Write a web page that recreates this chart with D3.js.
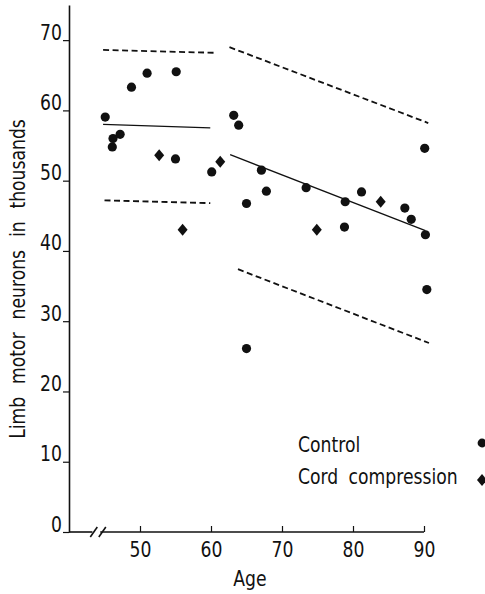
<!DOCTYPE html>
<html lang="en">

<head>
  <meta charset="UTF-8">
  <title>Limb motor neurons</title>
  <style>
    body {
      margin: 0;
      background: #fff;
    }

    svg text {
      font-family: "DejaVu Sans", sans-serif;
      font-size: 21px;
      fill: #111;
    }

    .fit {
      fill: none;
      stroke: #111;
    }
  </style>
</head>

<body>
  <div id="chart"></div>
</body>
<script src="https://d3js.org/d3.v7.min.js"></script>

<script>
  // control group
  const controlAge = [45.1, 46.2, 46.1, 47.2, 48.8, 51.0, 55.0, 55.1, 60.1, 63.2, 63.9, 65.0,
    65.0, 67.1, 67.8, 73.4, 78.9, 78.8, 81.2, 87.3, 88.2, 90.1, 90.2, 90.4]
  const controlNeurons = [59.05, 56.0, 54.8, 56.6, 63.3, 65.3, 53.1, 65.5, 51.25, 59.3, 57.9, 46.75,
    26.1, 51.5, 48.5, 49.0, 47.0, 43.4, 48.4, 46.1, 44.5, 54.6, 42.3, 34.5]

  // cord compression group
  const compAge = [52.7, 56.0, 61.3, 74.9, 83.9]
  const compNeurons = [53.6, 43.0, 52.7, 43.0, 47.0]

  // regression lines and limits, [age, neurons] at both ends
  const youngMean = [[44.8, 58.0], [59.9, 57.5]]
  const youngUpper = [[44.8, 68.6], [60.5, 68.2]]
  const youngLower = [[45.0, 47.2], [59.9, 46.8]]
  const oldMean = [[62.7, 53.7], [90.2, 42.9]]
  const oldUpper = [[62.6, 69.0], [90.6, 58.2]]
  const oldLower = [[63.8, 37.4], [90.7, 26.9]]

  const xTicks = [50, 60, 70, 80, 90]
  const yTicks = [0, 10, 20, 30, 40, 50, 60, 70]
  const legendLabels = ['Control', 'Cord compression']

  const W = 485, H = 594
  // no condensed face installed, so squeeze the glyphs a bit
  const sq = 0.82

  const xScale = d3.scaleLinear().domain([40, 90]).range([69, 424])
  const yScale = d3.scaleLinear().domain([0, 75]).range([532, 5])

  const svg = d3.select('#chart').append('svg')
    .attr('width', W)
    .attr('height', H)

  // y axis
  const yAxis = d3.axisLeft(yScale)
    .tickValues(yTicks)
    .tickSizeInner(6)
    .tickSizeOuter(0)
    .tickFormat(d3.format('d'))
  const gy = svg.append('g')
    .attr('transform', `translate(${xScale(40)},0)`)
    .call(yAxis)
  gy.attr('font-family', null).attr('font-size', null)
  gy.select('.domain').attr('stroke', '#111').attr('stroke-width', 1.6)
  gy.selectAll('.tick line').attr('stroke', '#111').attr('stroke-width', 1.2)
  gy.selectAll('.tick text')
    .attr('x', -7 / sq)
    .attr('dy', '-1')
    .attr('transform', `scale(${sq},1)`)
    .attr('fill', '#111')

  // x axis, the line itself is drawn by hand so it can carry the break
  const xAxis = d3.axisBottom(xScale)
    .tickValues(xTicks)
    .tickSizeInner(-6)
    .tickSizeOuter(0)
    .tickPadding(10)
    .tickFormat(d3.format('d'))
  const gx = svg.append('g')
    .attr('transform', `translate(0,${yScale(0)})`)
    .call(xAxis)
  gx.attr('font-family', null).attr('font-size', null)
  gx.select('.domain').remove()
  gx.selectAll('.tick line').attr('stroke', '#111').attr('stroke-width', 1.2)
  gx.selectAll('.tick text')
    .attr('dy', '0.71em')
    .attr('transform', `scale(${sq},1)`)
    .attr('fill', '#111')

  const y0 = yScale(0)
  const axisLine = d3.line()
  svg.append('path')
    .attr('d', axisLine([[xScale(40), y0], [xScale(43.3), y0]]))
    .attr('stroke', '#111').attr('stroke-width', 1.6)
  svg.append('path')
    .attr('d', axisLine([[xScale(44.4), y0], [xScale(90), y0]]))
    .attr('stroke', '#111').attr('stroke-width', 1.6)
  // break marks
  ;[43.0, 44.2].forEach(a => {
    svg.append('path')
      .attr('d', axisLine([[xScale(a), y0 + 5], [xScale(a) + 7, y0 - 5]]))
      .attr('stroke', '#111').attr('stroke-width', 1.6)
  })

  // axis titles
  svg.append('text')
    .attr('transform', `translate(250,586) scale(${sq},1)`)
    .attr('text-anchor', 'middle')
    .text('Age')

  svg.append('text')
    .attr('transform', `translate(25,279) rotate(-90) scale(${sq},1)`)
    .attr('text-anchor', 'middle')
    .style('word-spacing', '9px')
    .text('Limb motor neurons in thousands')

  // fitted lines
  const line = d3.line()
    .x(d => xScale(d[0]))
    .y(d => yScale(d[1]))

  ;[youngMean, oldMean].forEach(seg => {
    svg.append('path')
      .attr('class', 'fit')
      .attr('d', line(seg))
      .attr('stroke-width', 1.3)
  })
  ;[youngUpper, youngLower, oldUpper, oldLower].forEach(seg => {
    svg.append('path')
      .attr('class', 'fit')
      .attr('d', line(seg))
      .attr('stroke-width', 1.8)
      .attr('stroke-dasharray', '6,3.5')
  })

  const diamond = (cx, cy) =>
    `M${cx},${cy - 6}L${cx + 5},${cy}L${cx},${cy + 6}L${cx - 5},${cy}Z`

  // points
  svg.append('g')
    .selectAll('circle')
    .data(controlAge.map((a, i) => [a, controlNeurons[i]]))
    .enter()
    .append('circle')
    .attr('cx', d => xScale(d[0]))
    .attr('cy', d => yScale(d[1]))
    .attr('r', 4.6)
    .attr('fill', '#111')

  svg.append('g')
    .selectAll('path')
    .data(compAge.map((a, i) => [a, compNeurons[i]]))
    .enter()
    .append('path')
    .attr('d', d => diamond(xScale(d[0]), yScale(d[1])))
    .attr('fill', '#111')

  // legend
  const legend = svg.append('g')
  legend.selectAll('text')
    .data(legendLabels)
    .enter()
    .append('text')
    .attr('transform', (d, i) => `translate(298,${452 + i * 32}) scale(${sq},1)`)
    .style('word-spacing', '6px')
    .text(d => d)
  legend.append('circle')
    .attr('cx', 482)
    .attr('cy', 443)
    .attr('r', 4.4)
    .attr('fill', '#111')
  legend.append('path')
    .attr('d', diamond(482, 480))
    .attr('fill', '#111')
</script>

</html>
